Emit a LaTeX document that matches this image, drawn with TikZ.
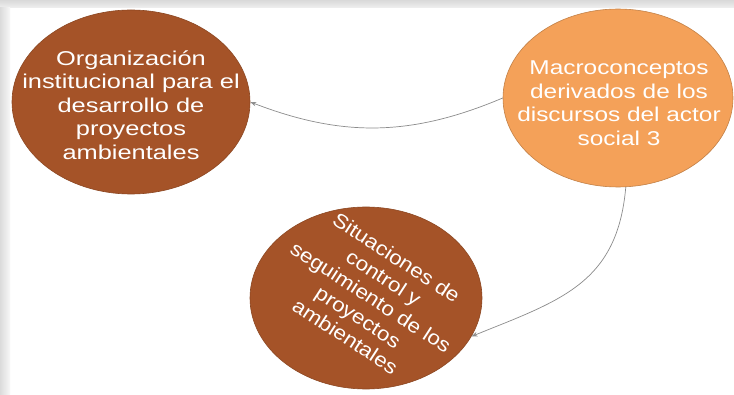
\documentclass[tikz,border=0pt]{standalone}
\usepackage{fontspec}
\setmainfont{Liberation Sans}
\usetikzlibrary{shapes.geometric, arrows.meta}

\definecolor{rust}{RGB}{165,83,40}
\definecolor{apricot}{RGB}{244,161,89}
\definecolor{linkgray}{RGB}{140,140,140}

\tikzset{
	bubble/.style = {ellipse, inner sep=0pt, line width=0.6pt},
	bubbletext/.style = {text=white, align=center, inner sep=0pt,
		font=\fontsize{20}{23.5}\selectfont, transform shape},
	link/.style = {draw=linkgray, line width=0.7pt, -{Stealth[length=6pt, width=4.5pt]}}
}

\begin{document}
\begin{tikzpicture}[x=1pt, y=1pt]

	\useasboundingbox (0,0) rectangle (734,394);
	\fill[white] (0,0) rectangle (734,394);
	\shade[top color=gray!30, bottom color=gray!12] (0,386) rectangle (734,394);
	\shade[left color=gray!28, right color=gray!6] (0,0) rectangle (10,386);

	% the three bubbles
	\node[bubble, fill=rust, draw=rust!85!black, minimum width=238pt, minimum height=184pt]
		(orga) at (131,292) {};
	\node[bubble, fill=apricot, draw=apricot!80!black, minimum width=230pt, minimum height=178pt]
		(macro) at (618,296) {};
	\node[bubble, fill=rust, draw=rust!85!black, minimum width=232pt, minimum height=182pt]
		(situ) at (366,96) {};

	\node[bubbletext, xscale=1.27] (orgatext) at (131,289)
		{Organización\\institucional para el\\desarrollo de\\proyectos\\ambientales};
	\node[bubbletext, xscale=1.22] (macrotext) at (619,291)
		{Macroconceptos\\derivados de los\\discursos del actor\\social 3};
	\node[bubbletext, rotate=-33, xscale=1.12] (situtext) at (371,97)
		{Situaciones de\\control y\\seguimiento de los\\proyectos\\ambientales};

	% links
	\draw[link] (macro.west) to[bend left=22] (orga.east);
	\draw[link] (macro.-85) to[out=-95, in=22, looseness=1.15] (situ.-20);

\end{tikzpicture}
\end{document}
